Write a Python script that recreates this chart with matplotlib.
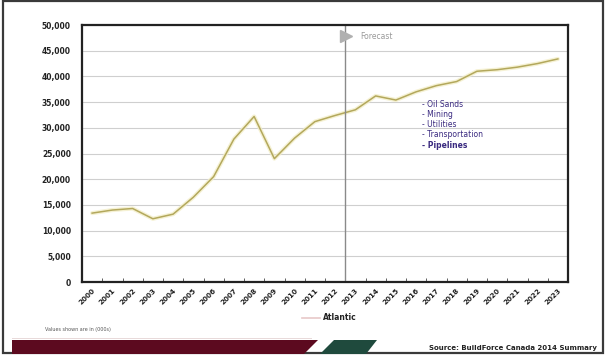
import matplotlib.pyplot as plt
from matplotlib.patches import Polygon, Rectangle
from matplotlib.lines import Line2D

years = [str(y) for y in range(2000, 2024)]
atlantic = [13400, 14000, 14300, 12300, 13200, 16500, 20500, 27800, 32200, 24000,
            28000, 31200, 32400, 33500, 36200, 35400, 37000, 38200, 39000, 41000,
            41300, 41800, 42500, 43400]
sectors = ['Oil Sands', 'Mining', 'Utilities', 'Transportation', 'Pipelines']
yticks = list(range(0, 50001, 5000))
forecast_at = 12.5

W, H = 608, 356
fig = plt.figure(figsize=(W / 100, H / 100), dpi=100)
fig.patch.set_facecolor('white')

# outer frame
fig.patches.append(Rectangle((3, 3), W - 8, H - 4, transform=None, fill=False,
                             edgecolor='#3a3a3a', linewidth=1.6))

ax = fig.add_axes([82 / W, 1 - 282 / H, (568 - 82) / W, (282 - 25) / H])
x = list(range(len(years)))

ax.plot(x, atlantic, color='#f3eec8', linewidth=3, alpha=0.8, solid_capstyle='round')
ax.plot(x, atlantic, color='#b3a85c', linewidth=1.1)

ax.set_xlim(-0.5, len(years) - 0.5)
ax.set_ylim(0, 50000)
ax.set_yticks(yticks)
ax.set_yticklabels(['{:,}'.format(v) for v in yticks], fontsize=5.5, fontweight='bold',
                   color='#222222')
ax.grid(axis='y', color='#cfcfcf', linewidth=0.8)
ax.set_axisbelow(True)
ax.tick_params(axis='y', length=0, pad=8)

ax.set_xticks(x)
ax.set_xticklabels(years, rotation=45, fontsize=5.2, fontweight='bold', color='#222222',
                   ha='right', rotation_mode='anchor')
ax.tick_params(axis='x', length=0, pad=4)
ax.set_xticks([i + 0.5 for i in x[:-1]], minor=True)
ax.tick_params(axis='x', which='minor', direction='in', length=3, color='#444444')

for s in ax.spines.values():
    s.set_linewidth(1.6)
    s.set_color('#222222')

# forecast marker
ax.axvline(forecast_at, color='#8a8a8a', linewidth=1.0)
ax.plot([forecast_at + 0.05], [47800], marker='>', markersize=8, color='#b0b0b0',
        clip_on=False)
ax.text(forecast_at + 0.75, 47800, 'Forecast', fontsize=5.5, color='#999999',
        va='center', ha='left')

# sector list
for i, name in enumerate(sectors):
    ax.text(16.3, 34600 - i * 2000, '- ' + name, fontsize=5.5, color='#3a2a80',
            va='center', ha='left', fontweight='bold' if i == 4 else 'normal')

# legend
fig.lines.append(Line2D([302, 320], [H - 318, H - 318], transform=None,
                        color='#e8c8c8', linewidth=1.2))
fig.text(323 / W, 1 - 318 / H, 'Atlantic', fontsize=5.5, fontweight='bold',
         color='#222222', va='center', ha='left')

fig.text(45 / W, 1 - 329 / H, 'Values shown are in (000s)', fontsize=3.5,
         color='#555555', va='center', ha='left')
fig.text(597 / W, 1 - 348 / H, 'Source: BuildForce Canada 2014 Summary', fontsize=5,
         fontweight='bold', color='#222222', va='center', ha='right')

# footer band
def px(pts):
    return [(a, H - b) for a, b in pts]

fig.patches.append(Rectangle((12, H - 339), 300, 1, transform=None,
                             facecolor='#e8dada', edgecolor='none'))
fig.patches.append(Polygon(px([(12, 340), (318, 340), (304, 354), (12, 354)]),
                           transform=None, facecolor='#5c0a1f', edgecolor='none'))
fig.patches.append(Polygon(px([(334, 340), (377, 340), (366, 354), (320, 354)]),
                           transform=None, facecolor='#1f4a3d', edgecolor='none'))

fig.savefig('out.png', dpi=100)
